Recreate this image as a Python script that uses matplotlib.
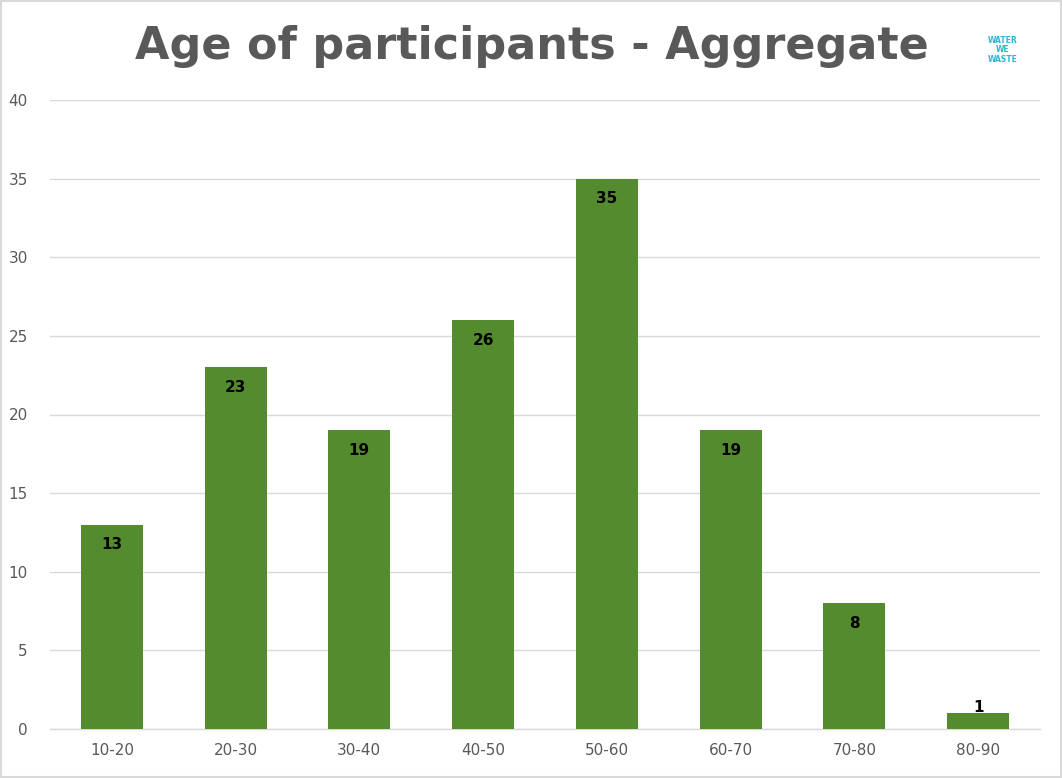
import matplotlib.pyplot as plt
from matplotlib.patches import Rectangle

# age bands and number of participants
age_groups = ["10-20", "20-30", "30-40", "40-50", "50-60", "60-70", "70-80", "80-90"]
counts = [13, 23, 19, 26, 35, 19, 8, 1]
y_ticks = [0, 5, 10, 15, 20, 25, 30, 35, 40]

W, H = 1062, 778
fig = plt.figure(figsize=(W / 100, H / 100), dpi=100)

# plot area in pixels: x 50..1040, y 100..729
ax = fig.add_axes([50 / W, 1 - 729 / H, 990 / W, 629 / H])

x = list(range(len(age_groups)))
ax.bar(x, counts, width=0.5, color="#558B2F", zorder=3)

ax.set_xlim(-0.5, len(age_groups) - 0.5)
ax.set_ylim(0, 40)
ax.set_yticks(y_ticks)
ax.set_xticks(x)
ax.set_xticklabels(age_groups)

ax.grid(axis="y", color="#d9d9d9", linewidth=1, zorder=0)
for side in ["top", "right", "left"]:
    ax.spines[side].set_visible(False)
ax.spines["bottom"].set_color("#d9d9d9")
ax.spines["bottom"].set_linewidth(1)
ax.tick_params(axis="both", length=0, labelsize=11, colors="#595959")
ax.tick_params(axis="y", pad=16)
ax.tick_params(axis="x", pad=10)

# data labels, inside the top of each bar
for xi, v in zip(x, counts):
    ypos = v - 1.27 if v > 2 else v + 0.35
    ax.text(xi, ypos, str(v), ha="center", va="center",
            fontsize=11, fontweight="bold", color="black", zorder=4)

fig.text(532 / W, 1 - 47 / H, "Age of participants - Aggregate",
         ha="center", va="center", fontsize=32, fontweight="bold",
         color="#595959", family="DejaVu Sans")

# little logo in the corner
fig.text(1003 / W, 1 - 50 / H, "WATER\nWE\nWASTE", ha="center", va="center",
         fontsize=5.5, fontweight="bold", color="#29b6d8", linespacing=1.1)

# light border round the chart
fig.patches.append(Rectangle((0.001, 0.001), 0.998, 0.998, transform=fig.transFigure,
                             fill=False, edgecolor="#d9d9d9", linewidth=1.5))

fig.savefig("out.png", dpi=100)
